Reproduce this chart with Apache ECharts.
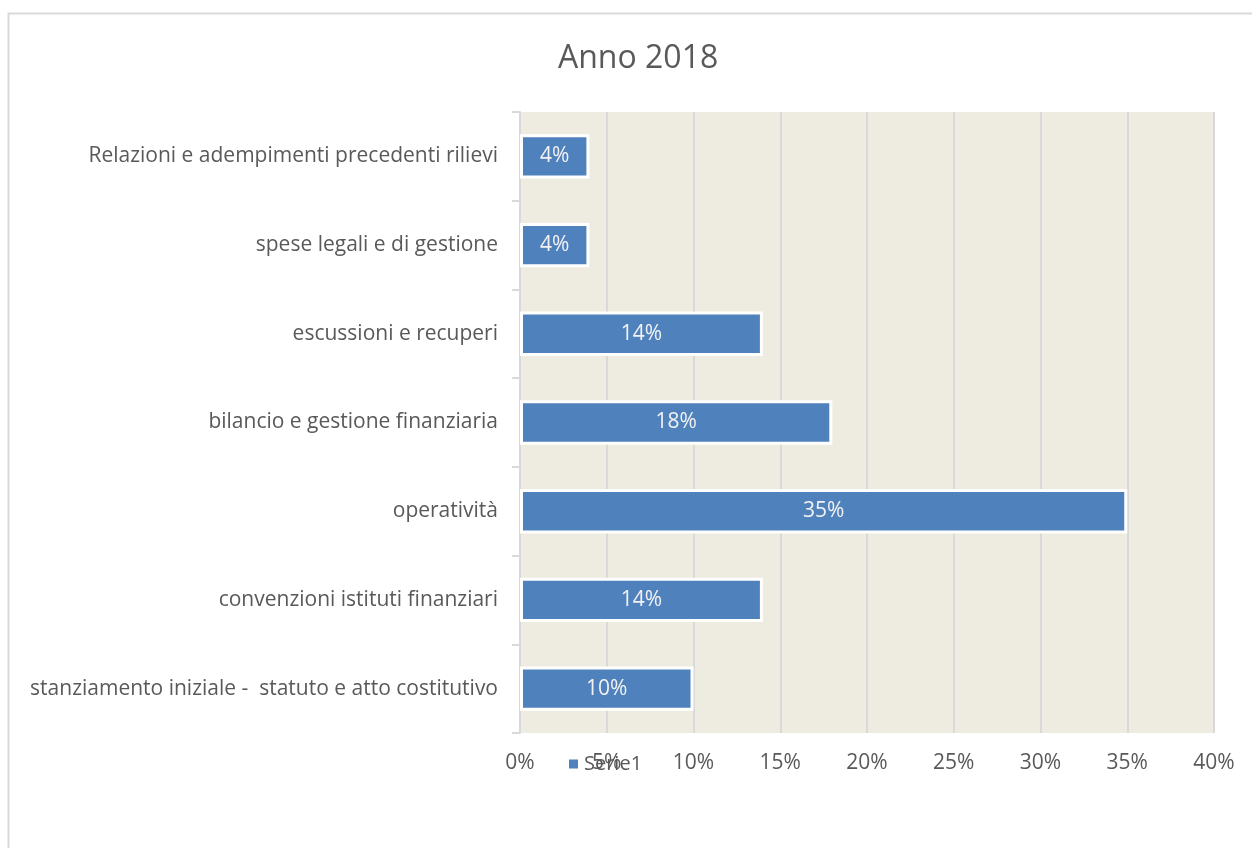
<!DOCTYPE html>
<html><head><meta charset="utf-8">
<script src="https://cdn.jsdelivr.net/npm/echarts@6/dist/echarts.min.js"></script>
<style>html,body{margin:0;padding:0;background:#fff}#c{width:1252px;height:848px}</style>
</head><body><div id="c"></div>
<script>
const categories = ["stanziamento iniziale -  statuto e atto costitutivo","convenzioni istituti finanziari","operatività","bilancio e gestione finanziaria","escussioni e recuperi","spese legali e di gestione","Relazioni e adempimenti precedenti rilievi"];
const values = [0.10, 0.14, 0.35, 0.18, 0.14, 0.04, 0.04];
const seriesName = "Serie1";
const title = "Anno 2018";
const font = "Open Sans";
const chart = echarts.init(document.getElementById('c'));
chart.setOption({
  animation:false,
  backgroundColor:'#fff',
  graphic:[{type:'rect',shape:{x:8.5,y:13.5,width:1260,height:860},style:{fill:'none',stroke:'#D9D9D9',lineWidth:2},silent:true,z:-1}],
  title:{text:title,left:553,top:38,textStyle:{fontFamily:font,fontSize:32,fontWeight:'normal',color:'#595959'}},
  legend:{data:[seriesName],left:562,top:749,itemWidth:11,itemHeight:11,icon:'rect',itemGap:5,textStyle:{fontFamily:font,fontSize:20,color:'#595959'}},
  grid:{left:520,right:38,top:112,bottom:115,containLabel:false,show:true,backgroundColor:'#EEECE1',borderWidth:0},
  xAxis:{type:'value',min:0,max:0.4,interval:0.05,
    axisLabel:{formatter:v=>Math.round(v*100)+'%',fontFamily:font,fontSize:21,color:'#595959',margin:20},
    splitLine:{show:true,lineStyle:{color:'#D9D9D9',width:2}},axisLine:{show:false},axisTick:{show:false}},
  yAxis:{type:'category',data:categories,
    axisLine:{show:true,lineStyle:{color:'#D9D9D9',width:2}},
    axisTick:{show:true,length:8,lineStyle:{color:'#D9D9D9',width:2}},
    axisLabel:{fontFamily:font,fontSize:21,color:'#595959',margin:22}},
  series:[{name:seriesName,type:'bar',data:values,barCategoryGap:'50%',
    itemStyle:{color:'#4F81BD',borderColor:'#fff',borderWidth:3},
    label:{show:true,position:'inside',formatter:p=>Math.round(p.value*100)+'%',fontFamily:font,fontSize:21,color:'#F2F2F2'}}]
});
</script></body></html>
